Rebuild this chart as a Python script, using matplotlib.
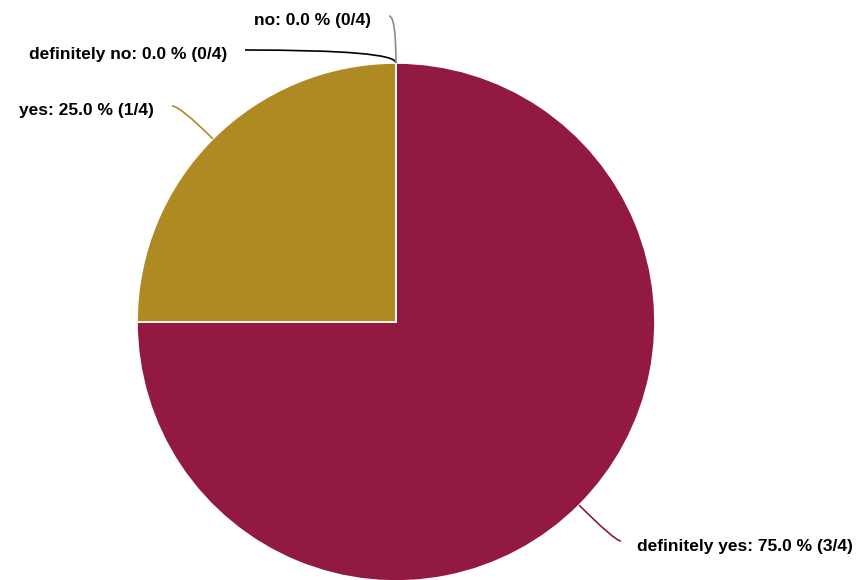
import numpy as np
import matplotlib
matplotlib.use("Agg")
import matplotlib.pyplot as plt
from matplotlib.path import Path
from matplotlib.patches import PathPatch

# data
categories = ["definitely yes", "yes", "definitely no", "no"]
counts = [3, 1, 0, 0]
total = 4
colors = ["#921A40", "#AF8A23", "#000000", "#8C8C8C"]

W, H = 862, 580
cx, cy, R = 396, H - 322, 259

# label anchor (end of connector) and alignment, in pixel coords
label_pos = [(621, 541, "left"), (172, 106, "right"), (245, 50, "right"), (389, 16, "right")]

fig = plt.figure(figsize=(W / 100, H / 100), dpi=100)
ax = fig.add_axes([0, 0, 1, 1])

wedges, _ = ax.pie(counts, colors=colors, startangle=90, counterclock=False,
                   center=(cx, cy), radius=R, frame=True,
                   wedgeprops=dict(edgecolor="white", linewidth=1.2))
ax.set_xlim(0, W)
ax.set_ylim(0, H)
ax.set_aspect("equal")
ax.axis("off")

for w, name, n, col, (lx, ly, ha) in zip(wedges, categories, counts, colors, label_pos):
    mid = np.radians((w.theta1 + w.theta2) / 2)
    sx, sy = cx + R * np.cos(mid), cy + R * np.sin(mid)
    ey = H - ly
    # control point: where the radial ray meets the label's horizontal line
    dx, dy = np.cos(mid), np.sin(mid)
    t = (ey - sy) / dy if abs(dy) > 1e-9 else 0
    ctrl = (sx + t * dx, ey)
    path = Path([(sx, sy), ctrl, (lx, ey)], [Path.MOVETO, Path.CURVE3, Path.CURVE3])
    ax.add_patch(PathPatch(path, fill=False, edgecolor=col, linewidth=1.2))
    pct = 100 * n / total
    txt = f"{name}: {pct:.1f} % ({n}/{total})"
    tx = lx + 16 if ha == "left" else lx - 18
    ax.text(tx, ey - 5, txt, ha=ha, va="center", fontsize=12.5,
            fontweight="bold", family=["Liberation Sans", "DejaVu Sans"], color="#000000")

fig.savefig("out.png", dpi=100)
